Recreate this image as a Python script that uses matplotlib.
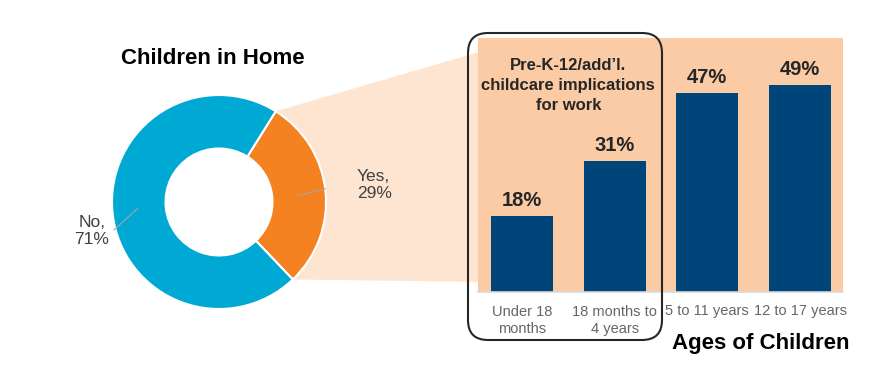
import numpy as np
import matplotlib.pyplot as plt
from matplotlib.patches import Polygon, FancyBboxPatch

plt.rcParams['font.family'] = ['Liberation Sans', 'DejaVu Sans']

# donut data
pie_labels = ['Yes', 'No']
pie_values = [29, 71]
pie_colors = ['#F58220', '#00A9D3']

# bar data
age_groups = ['Under 18\nmonths', '18 months to\n4 years', '5 to 11 years', '12 to 17 years']
age_values = [18, 31, 47, 49]

bar_color = '#00457A'
panel_color = '#FBCBA5'
fan_color = '#FDE5D2'

fig = plt.figure(figsize=(8.73, 3.82), dpi=100)

# donut on the left
ax_pie = fig.add_axes([112 / 873, 73 / 382, 214 / 873, 214 / 382])
wedges, _ = ax_pie.pie(pie_values, colors=pie_colors, startangle=58, counterclock=False,
                       radius=1, wedgeprops=dict(width=0.5, edgecolor='white', linewidth=1.5))
ax_pie.set_xlim(-1, 1)
ax_pie.set_ylim(-1, 1)
fig.text(213 / 873, 1 - 58 / 382, 'Children in Home', ha='center', va='center',
         fontsize=16, fontweight='bold', color='black')

# labels with leader lines
ax_pie.plot([0.74, 1.22], [0.06, 0.18], color='#A6A6A6', lw=0.8)
ax_pie.text(1.29, 0.16, f'{pie_labels[0]},\n{pie_values[0]}%', ha='left', va='center',
            fontsize=12.5, color='#404040', linespacing=1.2)
ax_pie.plot([-0.76, -0.98], [-0.06, -0.26], color='#A6A6A6', lw=0.8)
ax_pie.text(-1.19, -0.27, f'{pie_labels[1]},\n{pie_values[1]}%', ha='center', va='center',
            fontsize=12.5, color='#404040', linespacing=1.2)

# bars on the right
ax_bar = fig.add_axes([478 / 873, 90 / 382, 365 / 873, 254 / 382])
ax_bar.set_facecolor(panel_color)
x = range(len(age_groups))
ax_bar.bar(x, age_values, width=0.67, color=bar_color, zorder=2)
for xi, v in zip(x, age_values):
    ax_bar.annotate(f'{v}%', (xi, v), xytext=(0, 4), textcoords='offset points',
                    ha='center', va='bottom', fontsize=14.5, fontweight='bold', color='#262626')
ax_bar.set_ylim(0, 60)
ax_bar.set_xlim(-0.475, len(age_groups) - 0.536)
ax_bar.set_yticks([])
ax_bar.set_xticks(list(x))
ax_bar.set_xticklabels(age_groups, fontsize=10.5, color='#666666', linespacing=1.3)
ax_bar.tick_params(axis='x', length=0, pad=9)
for s in ['top', 'right', 'left']:
    ax_bar.spines[s].set_visible(False)
ax_bar.spines['bottom'].set_color('#D9D9D9')
ax_bar.spines['bottom'].set_linewidth(1.2)
fig.text(761 / 873, 1 - 344 / 382, 'Ages of Children', ha='center', va='center',
         fontsize=16, fontweight='bold', color='black')

ax_bar.text(0.5, 48.8, "Pre-K-12/add\u2019l.\nchildcare implications\nfor work", ha='center', va='center',
            fontsize=12, fontweight='bold', color='#262626', linespacing=1.4)

# fan from the "Yes" wedge to the bar panel
w = wedges[0]
to_fig = fig.transFigure.inverted()
p1 = ax_pie.transData.transform((np.cos(np.radians(w.theta2)), np.sin(np.radians(w.theta2))))
p2 = ax_pie.transData.transform((np.cos(np.radians(w.theta1)), np.sin(np.radians(w.theta1))))
p3 = ax_bar.transData.transform((-0.475, 2.4))
p4 = ax_bar.transData.transform((-0.475, 56.6))
fan = Polygon(to_fig.transform([p1, p4, p3, p2]), closed=True, transform=fig.transFigure,
              facecolor=fan_color, edgecolor='none', zorder=-1)
fig.patches.append(fan)

# rounded box around the first two groups
box = FancyBboxPatch((4.68, 0.42), 1.94, 3.07, boxstyle='round,pad=0,rounding_size=0.2',
                     transform=fig.dpi_scale_trans, facecolor='none', edgecolor='#262626',
                     linewidth=1.5, zorder=5)
fig.patches.append(box)

fig.savefig('out.png', dpi=100)
